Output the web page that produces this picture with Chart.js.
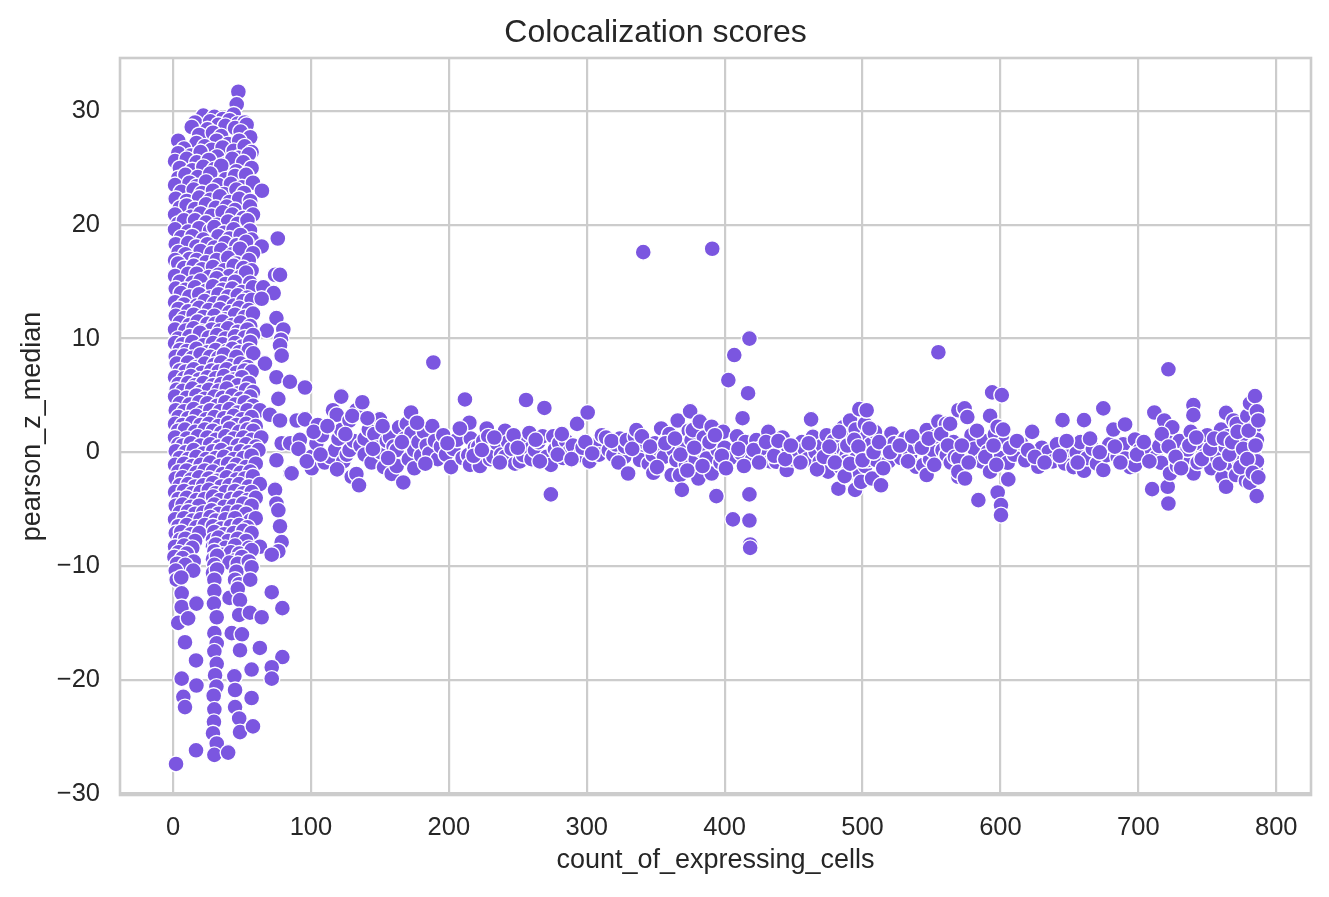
<!DOCTYPE html>
<html>
<head>
<meta charset="utf-8">
<title>Colocalization scores</title>
<script src="https://cdn.jsdelivr.net/npm/chart.js@4.4.1/dist/chart.umd.min.js"></script>
<style>
    html, body { margin: 0; padding: 0; background: #ffffff; }
    canvas { display: block; }
</style>
</head>
<body>
<canvas id="scatterChart" width="1329" height="897"></canvas>
<script>
// Tick labels
const xTickValues = [0, 100, 200, 300, 400, 500, 600, 700, 800];
const yTickValues = [-30, -20, -10, 0, 10, 20, 30];

// Low-count cluster, upper part: [count_of_expressing_cells, pearson_z_median]
const clusterUpper = [
    [47.4,31.7],[46.2,30.6],
    [22,29.6],[30,29.5],[36,29.3],[44,29.7],
    [16,29.0],[27,29.1],[33,28.8],[41,29.2],[47,28.9],[52,29.0],
    [13.6,28.6],[25,28.4],[38,28.7],[45,28.5],[53.4,28.8],
    [19,27.9],[29,28.1],[35,27.8],[49,28.2],[56,27.7],
    [3.8,27.4],[17,27.2],[31.7,27.4],[40,27.1],[48,27.4],
    [8,26.7],[23,26.9],[28,26.6],[36,26.8],[44,26.5],[52,26.9],[57,26.4],
    [3.8,26.3],[13,26.1],[20,26.4],[32,26.0],[47.4,25.9],[55,26.2],
    [1.5,25.6],[10,25.8],[17.2,25.5],[26,25.7],[39,25.4],[43,25.8],[51,25.5],
    [5,25.0],[14,24.8],[22,25.1],[30,24.9],[35,25.2],[46,24.7],[57,25.0],
    [3.8,24.1],[9,24.4],[18,24.2],[27,24.5],[38,24.0],[45,24.3],[53,24.4],
    [1.5,23.5],[12,23.7],[17.2,23.4],[24,23.8],[33,23.5],[42,23.6],[50,23.3],[58,23.7],
    [6,22.9],[15,23.1],[21,22.8],[29,23.0],[37,22.7],[46,23.1],[51.5,22.8],[64.5,23.0],
    [2,22.3],[10,22.1],[19,22.4],[27,22.2],[34,22.5],[41,22.0],[48,22.3],[56,22.1],
    [5,21.5],[9.9,21.7],[16,21.4],[24,21.8],[31,21.5],[39,21.6],[45,21.3],[55.8,21.6],
    [1.5,20.9],[13,20.7],[20,21.0],[28,20.8],[36,21.1],[43,20.9],[51,20.6],[58,20.9],
    [3.8,20.1],[8,20.4],[16,20.4],[24,20.2],[32,20.0],[40,20.3],[47,20.1],[54,20.4],
    [1.5,19.6],[11,19.4],[19,19.7],[27,19.5],[30,19.8],[37,19.3],[44,19.6],[55.8,19.5],
    [6,18.9],[14,19.0],[22,18.7],[33,19.0],[41,18.8],[49,19.1],[57,18.7],[76,18.8],
    [2,18.3],[11,18.4],[17,18.1],[25,18.3],[30,18.0],[38,18.4],[46,18.2],[53,18.5],[64.3,18.1],
    [4,17.6],[9,17.4],[20,17.7],[28,17.5],[35,17.8],[43,17.4],[48.6,17.9],[58,17.5],
    [1.5,16.9],[12,17.0],[17.2,16.9],[24,16.7],[31.7,16.9],[40,17.1],[46,16.6],[55,16.9],
    [3.8,16.6],[8,16.2],[15,16.4],[21,16.1],[29,16.3],[37,16.0],[44,16.4],[51,16.2],[57,16.0],
    [1.5,15.5],[11,15.7],[17.2,15.7],[26,15.4],[33,15.6],[41,15.5],[48.6,15.4],[53,15.8],[74,15.6],[77.6,15.6],
    [5,15.0],[14,14.9],[20,15.1],[31.7,15.3],[38,14.8],[45,15.0],[56,14.9],
    [2,14.4],[9,14.3],[16,14.5],[24,14.2],[29,14.6],[36,14.3],[43,14.4],[50,14.1],[58,14.5],[65.5,14.5],
    [5.8,14.0],[12,13.7],[19,13.9],[27,13.6],[33,13.9],[40,13.7],[47,13.8],[54,13.6],[73,14.0],
    [1.5,13.2],[8,13.0],[17.2,12.9],[23,13.3],[30,13.1],[37,13.2],[44,12.9],[51,13.3],[57,13.4],[64.3,13.5],
    [4,12.6],[11,12.4],[19,12.7],[26,12.5],[34,12.6],[41,12.3],[48,12.7],[55,12.5],
    [2,12.0],[8,11.8],[15,12.1],[22,11.9],[30,12.0],[38,11.7],[45,12.1],[52,11.9],[58,12.2],[75,11.8],
    [5,11.4],[12,11.2],[18,11.5],[25,11.3],[30.5,11.3],[36,11.5],[43,11.2],[49,11.4],[56,11.1],
    [1.5,10.8],[9,10.7],[15,10.9],[21,10.6],[28,10.8],[34,10.7],[40,10.9],[47,10.6],[54,10.8],[68,10.7],[80,10.8],
    [3.8,10.0],[12,10.2],[19.6,10.5],[26,10.1],[32,10.3],[38,10.0],[45,10.2],[52,10.1],[58,10.3],[78.3,9.9]
];

// Low-count cluster, middle part
const clusterMiddle = [
    [1.5,9.6],[7,9.5],[14,9.7],[22,9.4],[29,9.6],[36,9.5],[45,9.6],[50,9.3],[56,9.7],[77.6,9.4],
    [5,9.0],[10,8.9],[17,9.1],[25,8.8],[31,9.0],[39,8.9],[43,9.1],[48,8.8],[55,9.0],
    [2,8.4],[8,8.5],[14,8.3],[20,8.6],[27,8.4],[32.9,8.3],[37,8.6],[46,8.4],[58.2,8.7],[78.8,8.5],
    [2.7,7.8],[11,7.9],[17.2,7.5],[23,7.8],[30,7.7],[35,7.9],[42,7.6],[49,7.8],[54,7.5],[66.7,7.8],
    [5,7.2],[9,7.1],[15,7.3],[21,7.0],[28,7.2],[33,7.1],[39,7.3],[46,7.0],[52,7.2],[57,7.1],
    [1.5,6.6],[8,6.5],[13,6.7],[19,6.4],[25,6.6],[31,6.5],[37,6.7],[44,6.4],[50,6.6],[75,6.6],
    [4,6.0],[11,6.1],[16,5.9],[22,6.1],[29,5.9],[35,6.0],[41,6.2],[47,5.9],[55,6.1],[84.8,6.2],
    [2.7,5.5],[7,5.4],[14,5.6],[20,5.3],[26,5.5],[33,5.4],[39,5.6],[47.4,5.2],[53,5.5],[58,5.3],[95.7,5.7],
    [1.5,4.9],[10,4.8],[17,5.0],[23,4.7],[30,4.9],[36,4.8],[43,5.0],[49,4.7],[56,4.9],[76.4,4.7],
    [5,4.3],[12,4.2],[19,4.4],[25,4.3],[32,4.1],[38,4.4],[45,4.2],[52,4.4],[58,4.1],
    [2,3.7],[8,3.6],[15,3.8],[21,3.5],[27,3.7],[34,3.6],[41,3.8],[47,3.5],[54,3.7],[63,3.7],
    [4,3.1],[11,3.0],[17,3.2],[24,2.9],[30,3.1],[37,3.0],[44,3.2],[50,2.9],[57,3.1],[70.3,3.3],
    [1.5,2.5],[7,2.4],[14,2.6],[20,2.4],[26,2.5],[33,2.3],[40,2.6],[46,2.4],[53,2.5],[60,2.3],[77.6,2.8],
    [3.8,1.9],[8.7,2.0],[16,1.8],[23,2.0],[29,1.9],[35,1.7],[41.3,2.1],[48,1.8],[54,2.0],[58.2,1.9],
    [1.5,1.3],[10,1.2],[18,1.4],[25,1.3],[31,1.1],[38,1.4],[44,1.2],[51,1.3],[57,1.1],[64,1.3],
    [4,0.7],[7,0.6],[13,0.8],[20,0.6],[27,0.7],[33,0.5],[40,0.8],[47,0.6],[53,0.7],[60,0.5],[78.8,0.8],[85,0.8],
    [2,0.1],[9,0.0],[15,0.2],[22,-0.1],[29,0.1],[35,0.2],[42,-0.1],[49,0.1],[55,0.0],[62,0.2],
    [5,-0.5],[11,-0.6],[17,-0.4],[24,-0.6],[31,-0.5],[37,-0.4],[44,-0.6],[51,-0.5],[57,-0.3],[75,-0.7],
    [1.5,-1.1],[8,-1.0],[14,-1.2],[20,-1.1],[27,-0.9],[34,-1.2],[40,-1.0],[46,-1.1],[53,-1.3],[60,-1.0],
    [4,-1.7],[10,-1.6],[17,-1.8],[23,-1.6],[29,-1.7],[36,-1.9],[43,-1.6],[49,-1.8],[56,-1.7],[85,-1.85],
    [2,-2.3],[7,-2.2],[13,-2.4],[19,-2.2],[26,-2.3],[32,-2.5],[39,-2.2],[46,-2.4],[52,-2.3],[58,-2.1],
    [5,-2.9],[11,-2.8],[16,-3.0],[22,-2.9],[29,-2.7],[35,-3.0],[41,-2.9],[48,-2.8],[55,-3.0],[63,-2.8],
    [1.5,-3.5],[8,-3.4],[14,-3.6],[20,-3.5],[26,-3.3],[31,-3.6],[38,-3.5],[45,-3.4],[51,-3.6],[57,-3.5],[74,-3.3],
    [4,-4.1],[10,-4.0],[17,-4.2],[23,-4.1],[29,-3.9],[34,-4.2],[42,-4.1],[48,-4.0],[54,-4.2],[60,-4.0],
    [2,-4.7],[7,-4.6],[13,-4.8],[19,-4.7],[30,-4.6],[37,-4.8],[44,-4.7],[51,-4.5],[57,-4.7],[75,-4.5],
    [5,-5.3],[11,-5.2],[16,-5.4],[22,-5.3],[28,-5.1],[33,-5.4],[40,-5.3],[47,-5.2],[53,-5.4],[76.4,-5.1],
    [1.5,-5.9],[8,-5.8],[14,-6.0],[20,-5.9],[27,-5.7],[31,-6.0],[38,-5.9],[45,-5.8],[56,-6.0],[60,-5.8],
    [4,-6.5],[10,-6.4],[17,-6.6],[23,-6.4],[29,-6.5],[35,-6.7],[42,-6.5],[48,-6.4],[54,-6.6],[77.6,-6.5],
    [2,-7.1],[6,-7.0],[13,-7.2],[19,-7.1],[30,-7.0],[37,-7.2],[44,-7.1],[51,-6.9],[57,-7.1],
    [5,-7.7],[9,-7.6],[16,-7.8],[29,-7.7],[33,-7.5],[40,-7.8],[47,-7.6],[53,-7.8],[78.8,-7.9],
    [1.5,-8.3],[8,-8.2],[14,-8.4],[29,-8.3],[31,-8.1],[38,-8.4],[45,-8.2],[55,-8.4],[63,-8.3],
    [4,-8.8],[10,-8.9],[30,-8.7],[36,-9.0],[42,-8.8],[48,-8.9],[57,-8.6],[76.4,-8.7],
    [1,-9.2],[7,-9.3],[15,-9.6],[29,-9.4],[32,-9.1],[45,-9.5],[50,-9.2],[71.6,-9.0],
    [3,-9.8],[9,-9.9],[30,-9.9],[41,-9.7],[47,-9.8],[55,-9.6]
];

// Low-count cluster, lower tail
const clusterTail = [
    [2,-10.4],[14.7,-10.4],[29,-10.6],[32,-10.3],[46,-10.5],[57,-10.1],
    [2.7,-11.2],[6,-11.0],[30,-11.2],[45,-11.2],[48,-11.6],[56,-11.2],
    [6.3,-12.4],[30,-12.2],[41,-12.8],[47,-12.0],[71.6,-12.3],
    [6.3,-13.6],[17,-13.3],[29.7,-13.3],[48.6,-13.0],[79.3,-13.7],
    [3.8,-15.0],[11,-14.6],[31.7,-14.5],[48,-14.3],[55.8,-14.1],[64.3,-14.5],
    [30,-15.9],[42.6,-15.9],[50,-16.0],
    [8.7,-16.7],[31.7,-16.8],[30,-17.5],[48.6,-17.4],[63,-17.2],
    [16.7,-18.3],[31.7,-18.6],[79.3,-18.0],[71.6,-18.9],[57,-19.1],
    [6.3,-19.9],[17,-20.5],[30.5,-19.6],[44.5,-19.7],[45,-20.9],[71.6,-19.9],
    [7.5,-21.5],[31.5,-20.6],[29.5,-21.4],[57,-21.6],
    [8.7,-22.4],[30,-22.6],[45,-22.4],[48,-23.4],
    [29.7,-23.7],[29,-24.7],[48.6,-24.6],[58,-24.1],
    [31.7,-25.6],[16.7,-26.2],[30,-26.6],[40,-26.4],
    [2.2,-27.4]
];

// Band, 85 to 330 cells
const bandLeft = [
    [89.7,2.8],[92,1.1],[95.7,2.9],[100.6,-0.4],[100.6,-1.4],[104,0.8],[105,2.4],[108,1.5],
    [110,-0.9],[114,-0.4],[116,3.7],[117.5,0.2],[118.7,3.3],[120,1.2],[122,4.9],[122,1.95],
    [123.5,-0.8],[126,-0.2],[128,2.8],[128,0.2],[129.6,-2.15],[131,1.0],[133,3.7],[133,-1.9],
    [134.9,-2.9],[136,0.6],[137.3,4.4],[139,1.2],[139,-0.2],[142,2.0],[144,-0.9],[146,1.6],
    [148,0.4],[150,2.9],[150.8,0],[153,-1.3],[155,1.0],[157.4,1.3],[158.6,-1.9],[160,0.5],
    [162.2,0.2],[162.2,-1.2],[164,2.2],[167,-2.65],[168,1.2],[169.5,2.5],[171,-0.6],[172.6,3.5],
    [173,1.7],[175,0.2],[175,-1.4],[178,0.9],[180,-0.3],[182,1.8],[184,0.6],[186,-0.1],
    [188,2.3],[190,1.0],[192,-0.6],[194.3,0.5],[196,1.5],[198,-0.2],
    [201.6,-1.3],[203.3,0.3],[206,1.1],[210,-0.5],[211.7,4.65],[214.1,-0.25],[214.9,2.6],[215.4,-1.1],
    [216,1.2],[219,0.4],[221.4,0.5],[222.6,-1.2],[225,1.0],[227.5,2.1],[228.6,1.4],[230,-0.6],
    [232.3,-0.4],[235,0.8],[238,-0.2],[240.8,1.9],[240.8,-0.4],[243,0.9],[245.6,0.3],[248,-1.0],
    [251.6,-0.8],[254,-0.25],[256,4.6],[257,1.2],[258.4,1.7],[258.9,0.3],[260,-0.6],[262.5,0.2],
    [265,0.9],[268,1.4],[269.3,3.9],[271,-0.4],[274,-1.1],[274,-3.7],[275.8,1.4],[277,0.25],
    [280,0.8],[283,-0.5],[285,1.0],[287.4,0.05],[290,0.6],[293,2.5],[295.1,-0.25],[297,0.4],
    [300.7,3.5],[302,-0.8],[306,0.6],[309,-0.2],[311,1.5],[314,1.3],[316,0.2],[319.3,-0.25],
    [321,0.7],[324,1.2],[327.3,-0.4],[327.8,0.5],
    [86,-1.85],[91,0.3],[97,-0.8],[102,1.8],[107,-0.2],[112,2.3],[119,-1.5],[125,1.6],
    [130,3.2],[141,3.0],[145,0.3],[152,2.3],[156,-0.5],[166,0.9],[177,2.6],[183,-1.0],
    [199,0.8],[208,2.1],[218,-0.3],[224,0.2],[233,1.3],[237,-0.9],[247,1.5],[250,0.4],
    [263,1.1],[266,-0.8],[279,-0.2],[282,1.6],[289,-0.6],[299,0.9],[304,-0.1],[318,1.0],[323,-0.9]
];

// Band, 330 to 570 cells
const bandMiddle = [
    [329,1.07],[330,-1.86],[335,1.37],[336,1.95],[338.7,0.37],[338.7,-0.68],[342,0.9],[345,-1.0],
    [348,-0.25],[348.3,-1.8],[349.5,0.8],[352,0.3],[354,2.1],[356,-0.4],[358,1.07],[360,1.6],
    [361.6,-2.0],[363,0.2],[365,-0.69],[366,2.8],[367.6,-2.0],[369,-3.3],[370,0.6],[372,-1.1],
    [374,1.9],[375,3.6],[376,1.07],[377,1.95],[379,-0.6],[381,-2.3],[382,2.7],[383,0.2],
    [385,1.3],[387,-0.54],[390.6,2.25],[390.6,-1.86],[392,0.7],[394,-3.85],[395,0.2],[397,-0.9],
    [399,1.8],[400,0.4],[402.7,6.35],[404,-0.54],[406,-5.9],[407,8.55],[409,1.4],[412,-0.1],
    [413,3.0],[415,0.9],[417,5.2],[418,-3.7],[418,-6.0],[418.5,-8.1],[418.5,-8.4],[418,10.0],
    [419.6,-0.7],[423,1.07],[426,0.3],[428,-0.25],[431.7,1.8],[433,-0.8],[435,0.8],[437.5,-0.83],
    [440,0.2],[442,1.3],[445,-1.56],[446,0.48],[449,-0.6],[451,0.34],[453,-0.3],[456,0.9],
    [458,0.3],[460,-0.62],[462.7,2.9],[464,1.36],[466,0.0],[469,-0.83],[471,0.6],[474,1.5],
    [475,-1.7],[477,-0.5],[479,1.0],[481,0.48],[482.5,-3.2],[484,-1.3],[486,2.2],[486,0.3],
    [488.5,-0.25],[488.5,-0.83],[490,1.4],[491,2.8],[492,-1.5],[493,0.8],[494.6,-3.3],[494.6,-1.86],
    [495,2.0],[496,-0.4],[497.7,3.8],[498,-1.86],[499,-2.6],[499.4,0.2],[500,1.0],[501.8,2.5],
    [502,-1.2],[503,3.7],[503,1.36],[504,-0.68],[506,0.7],[507,-2.3],[509,1.8],[510,-0.69],
    [513.4,-2.9],[516,0.3],[519,-0.8],[521,1.66],[523,0.8],[525,-0.1],[528,-0.5],[529.7,1.07],
    [531,1.2],[534.5,-0.25],[537,0.5],[539,-1.27],[541,1.0],[544,-1.13],[546.5,1.95],[546.5,-2.0],
    [549,-0.6],[551,0.2],[553,1.4],[555,2.7],[558,0.2],[560.5,2.5],[561,-0.25],[564,-0.9],
    [566,0.9],[569.5,3.7],[569.5,-2.15],
    [333,0.3],[340,1.4],[346,0.5],[351,-1.3],[357,0.8],[364,1.2],[368,-0.2],[373,-1.6],
    [378,0.4],[384,-1.2],[389,0.9],[393,1.5],[398,-0.3],[401,-1.4],[410,0.3],[414,-1.2],
    [421,0.2],[425,-0.9],[430,0.9],[436,-0.3],[439,1.0],[444,-0.6],[448,0.6],[455,-0.9],
    [461,0.8],[467,-1.5],[472,-0.4],[476,0.5],[480,-0.9],[483,1.8],[487,-2.1],[489,0.6],
    [491,-1.0],[494,1.1],[497,0.5],[500,-0.7],[505,2.1],[508,0.0],[512,0.9],[515,-1.4],
    [520,0.0],[527,0.6],[533,-0.8],[536,1.4],[543,0.4],[548,1.2],[552,-1.1],[557,1.6],[562,0.6],[567,-0.4]
];

// Band, 570 to 790 cells
const bandRight = [
    [563.5,2.5],[569.5,-0.54],[569.5,-1.71],[574,3.86],[574.3,-2.3],[576,3.1],[579,1.5],[581,0.3],
    [584,-4.2],[586,-0.8],[588,1.0],[591,0.05],[592.5,3.2],[592.5,-1.7],[594,5.27],[596,1.6],
    [598,2.25],[598,-3.53],[600,-0.5],[600.4,-4.64],[600.4,-5.52],[601,5.03],[603,0.9],[605.3,-0.92],
    [605.7,-2.38],[610,-0.2],[615,0.78],[618,-0.7],[623,1.8],[627.5,-1.27],[630,0.4],[635,0.05],
    [638,-0.8],[641,0.7],[645,2.83],[646.8,-0.98],[650,0.2],[653,-1.3],[655.3,-0.04],[658,0.9],
    [660.6,2.83],[660.6,-1.62],[663,-0.5],[667,0.3],[670,-1.0],[674.6,3.86],[674.6,-1.56],[677,-0.25],
    [679,0.7],[681.9,2.0],[685,-0.4],[689,0.7],[690.4,2.45],[690.4,-0.54],[694,-1.3],[697.6,1.13],
    [697.6,-1.13],[701,0.2],[706.5,0.34],[710,-3.24],[711.6,3.5],[713,-0.4],[715.2,0.55],[716.4,-0.92],
    [718.8,2.8],[720,1.3],[721.3,-3.03],[721.8,-4.5],[721.8,7.3],[723,-1.86],[724.6,2.2],[726,0.1],
    [728,-1.2],[730,1.0],[733,-0.6],[735.8,0.25],[738,1.8],[739.9,4.15],[739.9,3.27],[740,-1.86],
    [743,-0.9],[745,0.8],[748.4,-0.25],[750,1.5],[753,-1.4],[756.8,-0.4],[758,0.9],[760,2.0],
    [761,-2.2],[763,0.5],[763.6,3.47],[763.6,-3.03],[765,1.4],[767,-1.0],[769,2.8],[770,0.05],
    [770.8,-2.0],[771.3,2.5],[773,-0.7],[775,1.0],[777.4,1.36],[778,-2.5],[779,3.2],[781,4.3],
    [781,-2.68],[782,0.4],[783.4,-0.25],[784,2.2],[784.6,4.94],[785,-1.5],[785.8,-3.85],[786,1.1],
    [786,3.6],[786,-0.8],[555,8.8],
    [572,0.6],[577,-0.9],[583,1.9],[589,-0.4],[595,0.6],[597,-1.1],[602,2.0],[607,0.4],
    [612,1.0],[620,0.2],[625,-0.4],[632,-0.9],[643,-0.3],[648,1.0],[656,-0.9],[665,1.2],
    [672,0.0],[683,0.5],[687,-0.9],[699,-0.2],[704,0.9],[708,-0.8],[717,1.6],[722,0.5],
    [727,-0.4],[731,-1.4],[737,0.6],[742,1.3],[746,-0.6],[752,0.3],[755,1.2],[759,-1.0],
    [762,1.2],[766,-0.2],[768,0.9],[772,1.8],[774,-1.3],[776,0.3],[779,-0.6],[780,1.9],
    [783,-1.8],[785,0.6],[787,2.8],[787,-2.2]
];

// Isolated high scores
const outliers = [
    [188.8,7.9],[341,17.6],[391,17.9]
];

const pointColor = '#7b56e0';
const textColor = '#262626';
const gridColor = '#cccccc';

Chart.defaults.font.family = "'Liberation Sans', Arial, Helvetica, sans-serif";
Chart.defaults.color = textColor;

const allPoints = [].concat(clusterUpper, clusterMiddle, clusterTail, bandLeft, bandMiddle, bandRight, outliers)
    .map(p => ({ x: p[0], y: p[1] }));

function formatTick(value) {
    return value < 0 ? '\u2212' + Math.abs(value) : String(value);
}

// Light frame around the plotting area, like the seaborn whitegrid spines
const framePlugin = {
    id: 'frame',
    beforeDatasetsDraw(chart) {
        const { ctx, chartArea } = chart;
        ctx.save();
        ctx.strokeStyle = gridColor;
        ctx.lineWidth = 2.6;
        ctx.strokeRect(chartArea.left, chartArea.top, chartArea.right - chartArea.left, chartArea.bottom - chartArea.top);
        ctx.restore();
    }
};

const ctx = document.getElementById('scatterChart');

new Chart(ctx, {
    type: 'scatter',
    data: {
        datasets: [{
            label: 'pearson_z_median',
            data: allPoints,
            backgroundColor: pointColor,
            borderColor: '#ffffff',
            borderWidth: 1.4,
            pointRadius: 8,
            pointHoverRadius: 8
        }]
    },
    options: {
        responsive: false,
        animation: false,
        devicePixelRatio: 1,
        layout: {
            padding: { left: 0, right: 18, top: 0, bottom: 0 }
        },
        plugins: {
            legend: { display: false },
            tooltip: { enabled: false },
            title: {
                display: true,
                text: 'Colocalization scores',
                color: textColor,
                font: { size: 32, weight: 'normal' },
                padding: { top: 14, bottom: 5.6 }
            }
        },
        scales: {
            x: {
                type: 'linear',
                min: -38.43,
                max: 825.2,
                afterBuildTicks: scale => { scale.ticks = xTickValues.map(v => ({ value: v })); },
                afterFit: scale => { scale.height = 102; },
                grid: { color: gridColor, lineWidth: 2.2, drawTicks: false },
                border: { display: false },
                ticks: {
                    padding: 17.5,
                    color: textColor,
                    font: { size: 25.5 },
                    callback: formatTick
                },
                title: {
                    display: true,
                    text: 'count_of_expressing_cells',
                    color: textColor,
                    font: { size: 27 },
                    padding: { top: 0, bottom: 20 }
                }
            },
            y: {
                type: 'linear',
                min: -30.13,
                max: 34.67,
                afterBuildTicks: scale => { scale.ticks = yTickValues.map(v => ({ value: v })); },
                afterFit: scale => { scale.width = 120; },
                grid: { color: gridColor, lineWidth: 2.2, drawTicks: false },
                border: { display: false },
                ticks: {
                    padding: 20,
                    color: textColor,
                    font: { size: 25.5 },
                    callback: formatTick
                },
                title: {
                    display: true,
                    text: 'pearson_z_median',
                    color: textColor,
                    font: { size: 27 },
                    padding: { top: 16.5, bottom: 0 }
                }
            }
        }
    },
    plugins: [framePlugin]
});
</script>
</body>
</html>
